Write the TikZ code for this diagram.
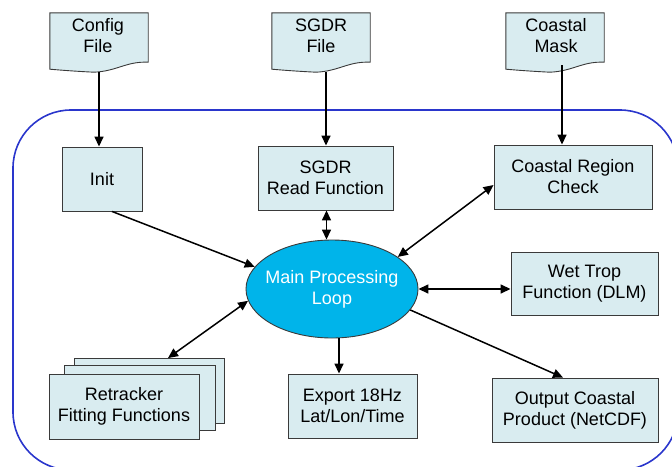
\documentclass[tikz,border=0pt]{standalone}
\usepackage{fontspec}
\setmainfont{Liberation Sans}
\usetikzlibrary{shapes.geometric,arrows.meta,calc}
\definecolor{boxfill}{HTML}{D9ECF0}
\definecolor{boxline}{HTML}{3A3A3A}
\definecolor{ellfill}{HTML}{00B4EA}
\definecolor{loopblue}{HTML}{2A36CC}
\tikzset{
  procbox/.style={draw=boxline, line width=0.9pt, fill=boxfill, align=center, inner sep=0pt,
    font=\fontsize{18}{21}\selectfont},
  docbox/.style={inner sep=0pt, minimum width=98pt, minimum height=59pt},
  doctext/.style={align=center, font=\fontsize{18}{21}\selectfont},
  link/.style={line width=1.5pt, -{Triangle[length=10pt,width=9pt]}},
  blink/.style={line width=1.5pt, {Triangle[length=10pt,width=9pt]}-{Triangle[length=10pt,width=9pt]}},
}
\newcommand\drawdoc[1]{%
  \draw[draw=boxline, line width=0.9pt, fill=boxfill]
    (#1.north west) -- (#1.north east) -- ($(#1.south east)+(0,-10)$)
    .. controls ($(#1.south east)+(-22,-11)$) and ($(#1.south)+(18,-1)$) .. ($(#1.south)+(-5,0)$)
    .. controls ($(#1.south)+(-25,-1)$) and ($(#1.south west)+(12,-2)$) .. ($(#1.south west)+(0,-3)$)
    -- cycle;}
\begin{document}
\begin{tikzpicture}[x=1pt,y=-1pt]
\useasboundingbox (0,0) rectangle (672,466);
% outer loop border
\draw[loopblue, line width=1.6pt, rounded corners=58pt] (13,110) rectangle (678,470);

% document inputs
\node[docbox] (cfg) at (99,42.5) {};
\node[docbox] (sgf) at (321,42.5) {};
\node[docbox] (msk) at (555,42.5) {};
\drawdoc{cfg}\drawdoc{sgf}\drawdoc{msk}
\node[doctext] (cfgt) at (98,36) {Config\\File};
\node[doctext] (sgft) at (321,36) {SGDR\\File};
\node[doctext] (mskt) at (556,36) {Coastal\\Mask};

% process boxes
\node[procbox, minimum width=80pt, minimum height=64pt] (init) at (102,179) {Init};
\node[procbox, minimum width=135pt, minimum height=64pt] (read) at (325.5,178) {SGDR\\Read Function};
\node[procbox, minimum width=158pt, minimum height=64pt] (crc) at (573,177) {Coastal Region\\Check};
\node[procbox, minimum width=147pt, minimum height=63pt] (wet) at (584.5,283.5) {Wet Trop\\Function (DLM)};
\node[procbox, minimum width=129pt, minimum height=64pt] (exp) at (352.5,406) {Export 18Hz\\Lat/Lon/Time};
\node[procbox, minimum width=166pt, minimum height=64pt] (out) at (575,410) {Output Coastal\\Product (NetCDF)};
\node[procbox, minimum width=150pt, minimum height=65pt] (retb) at (149,391) {};
\node[procbox, minimum width=151pt, minimum height=65pt] (retm) at (139.5,397.5) {};
\node[procbox, minimum width=150pt, minimum height=65pt] (ret) at (124,406.5) {Retracker\\Fitting Functions};

% main loop
\node[ellipse, draw=boxline, line width=0.9pt, fill=ellfill, minimum width=172pt, minimum height=98pt,
  inner sep=0pt] (ell) at (332,289) {};
\node[align=center, text=white, font=\fontsize{18}{21}\selectfont] (ellt) at (ell.center)
  {Main Processing\\Loop};

% connectors
\draw[link] (cfg.south) -- (cfg.south |- init.north);
\draw[link] ([xshift=5pt]sgf.south) -- ([xshift=5pt]sgf.south |- read.north);
\draw[link] ([xshift=7pt,yshift=7pt]msk.south) -- ([xshift=7pt]msk.south |- crc.north);
\draw[link] ([xshift=10pt]init.south) -- (ell.164);
\draw[blink] ([xshift=1pt]read.south) -- ([xshift=1pt]read.south |- ell.north);
\draw[blink] ([yshift=-8pt]crc.west) -- (ell.26);
\draw[blink] (ell.east) -- (ell.east -| wet.west);
\draw[link] (ell.-15) -- ([xshift=-12pt]out.north);
\draw[link] ([xshift=7pt]ell.south) -- ([xshift=7pt]ell.south |- exp.north);
\draw[blink] ([xshift=19pt]retb.north) -- (ell.188);
\end{tikzpicture}
\end{document}
